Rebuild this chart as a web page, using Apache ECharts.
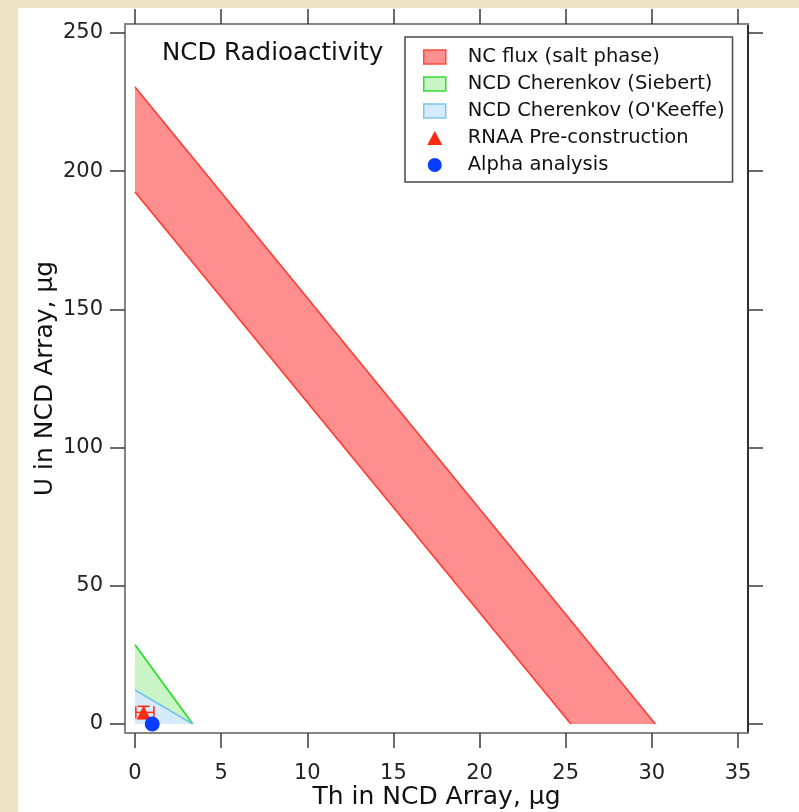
<!DOCTYPE html>
<html>
<head>
<meta charset="utf-8">
<script src="https://cdn.jsdelivr.net/npm/echarts@6/dist/echarts.min.js"></script>
<style>
  html, body { margin: 0; padding: 0; width: 799px; height: 812px; overflow: hidden; background: #efe4c4; }
  #panel { position: absolute; left: 18px; top: 8px; width: 781px; height: 804px; background: #ffffff; }
  #chart { position: absolute; left: 0; top: 0; width: 799px; height: 812px; }
</style>
</head>
<body>
<div id="panel"></div>
<div id="chart"></div>
<script>
// Tick positions on each axis
const thTicks = [0, 5, 10, 15, 20, 25, 30, 35];
const uTicks = [0, 50, 100, 150, 200, 250];
// Plot box extends a little past the outer ticks
const thRange = [-0.58, 35.58];
const uRange = [-3.26, 253.26];

// NC flux allowed band (salt phase): upper and lower edges, [Th, U] in micrograms
const ncFluxUpper = [[0, 230.5], [30.2, 0]];
const ncFluxLower = [[0, 192.5], [25.3, 0]];

// NCD Cherenkov limits
const siebertEdge = [[0, 28.7], [3.35, 0]];
const okeeffeEdge = [[0, 12.3], [3.35, 0]];

// Point measurements: [Th, U]
const rnaaPoint = [[0.5, 4.2]];
const rnaaThRange = [[0.05, 1.1]];
const rnaaURange = [[2.0, 6.4]];
const alphaPoint = [[1.0, 0.0]];

const FONT = 'DejaVu Sans';
const chart = echarts.init(document.getElementById('chart'), null, { renderer: 'canvas' });

const tickStyle = { color: '#3a3a3a', width: 1.5 };
const frameStyle = { color: '#858585', width: 2 };

function thAxis(pos, withLabels) {
  return {
    type: 'value', position: pos,
    min: thRange[0], max: thRange[1],
    axisLine: { show: true, onZero: false, lineStyle: frameStyle },
    axisTick: { show: true, inside: false, length: 15, customValues: thTicks, lineStyle: tickStyle },
    axisLabel: withLabels
      ? { show: true, customValues: thTicks, fontFamily: FONT, fontSize: 21, color: '#222', margin: 30 }
      : { show: false },
    splitLine: { show: false }
  };
}
function uAxis(pos, withLabels, lineStyle) {
  return {
    type: 'value', position: pos,
    min: uRange[0], max: uRange[1],
    axisLine: { show: true, onZero: false, lineStyle: lineStyle },
    axisTick: { show: true, inside: false, length: 15, customValues: uTicks, lineStyle: tickStyle },
    axisLabel: withLabels
      ? { show: true, customValues: uTicks, fontFamily: FONT, fontSize: 21, color: '#222', margin: 22 }
      : { show: false },
    splitLine: { show: false }
  };
}

const xBottom = Object.assign(thAxis('bottom', true), {
  name: 'Th in NCD Array, μg', nameLocation: 'middle', nameGap: 52, nameMoveOverlap: false,
  nameTextStyle: { fontFamily: FONT, fontSize: 25, color: '#111' }
});
const xTop = thAxis('top', false);
const yLeft = Object.assign(uAxis('left', true, frameStyle), {
  name: 'U in NCD Array, μg', nameLocation: 'middle', nameGap: 67, nameRotate: 90, nameMoveOverlap: false,
  nameTextStyle: { fontFamily: FONT, fontSize: 25, color: '#111' }
});
const yRight = uAxis('right', false, { color: '#2e2e2e', width: 2 });

chart.setOption({
  backgroundColor: 'transparent',
  animation: false,
  title: {
    text: 'NCD Radioactivity',
    left: 162, top: 41, padding: 0,
    textStyle: { fontFamily: FONT, fontSize: 24.5, fontWeight: 'normal', color: '#111' }
  },
  legend: {
    orient: 'vertical',
    left: 405, top: 37,
    padding: [10, 8, 7, 18],
    itemWidth: 22, itemHeight: 14, itemGap: 7,
    borderColor: '#4a4a4a', borderWidth: 1.5,
    selectedMode: false,
    textStyle: { fontFamily: FONT, fontSize: 19.5, color: '#111', lineHeight: 20, padding: [0, 0, 0, 17] },
    data: [
      { name: 'NC flux (salt phase)', icon: 'rect', itemStyle: { color: '#ff8f8f', borderColor: '#ff4a3c', borderWidth: 1.5 } },
      { name: 'NCD Cherenkov (Siebert)', icon: 'rect', itemStyle: { color: '#c9f5c6', borderColor: '#33dd33', borderWidth: 1.5 } },
      { name: "NCD Cherenkov (O'Keeffe)", icon: 'rect', itemStyle: { color: '#d6ebf9', borderColor: '#7cc7f0', borderWidth: 1.5 } },
      { name: 'RNAA Pre-construction', icon: 'path://M7,0L14,13L0,13Z', itemStyle: { color: '#ff2a10', borderWidth: 0 } },
      { name: 'Alpha analysis', icon: 'circle', itemStyle: { color: '#0a3cff', borderWidth: 0 } }
    ]
  },
  grid: { left: 125, top: 24, width: 623, height: 709, show: false, outerBoundsMode: 'none', containLabel: false },
  xAxis: [xBottom, xTop],
  yAxis: [yLeft, yRight],
  series: [
    {
      // NC flux band: polygon between the two parallel limits
      type: 'custom', name: 'NC flux (salt phase)',
      xAxisIndex: 0, yAxisIndex: 0, z: 1,
      itemStyle: { color: '#ff8f8f' },
      data: [[ncFluxUpper[0][0], ncFluxUpper[0][1]]],
      renderItem: function (params, api) {
        const up = ncFluxUpper.map(p => api.coord(p));
        const lo = ncFluxLower.map(p => api.coord(p));
        return {
          type: 'group',
          children: [
            { type: 'polygon', shape: { points: [up[0], up[1], lo[1], lo[0]] }, style: { fill: '#ff8f8f' } },
            { type: 'polyline', shape: { points: up }, style: { stroke: '#ff3a2e', lineWidth: 1.6, fill: 'none' } },
            { type: 'polyline', shape: { points: lo }, style: { stroke: '#ff3a2e', lineWidth: 1.6, fill: 'none' } }
          ]
        };
      }
    },
    {
      type: 'line', name: 'NCD Cherenkov (Siebert)',
      xAxisIndex: 0, yAxisIndex: 0, z: 2,
      data: siebertEdge, symbol: 'none',
      lineStyle: { color: '#2ede2e', width: 1.8 },
      itemStyle: { color: '#2ede2e' },
      areaStyle: { color: '#c9f5c6', opacity: 1, origin: 0 }
    },
    {
      type: 'line', name: "NCD Cherenkov (O'Keeffe)",
      xAxisIndex: 0, yAxisIndex: 0, z: 3,
      data: okeeffeEdge, symbol: 'none',
      lineStyle: { color: '#74c2ee', width: 1.6 },
      itemStyle: { color: '#74c2ee' },
      areaStyle: { color: '#d6ebf9', opacity: 1, origin: 0 }
    },
    {
      // RNAA error bars
      type: 'custom', name: 'RNAA error bars',
      xAxisIndex: 0, yAxisIndex: 0, z: 8, clip: false,
      data: rnaaPoint.map((p, i) => [p[0], p[1], rnaaThRange[i][0], rnaaThRange[i][1], rnaaURange[i][0], rnaaURange[i][1]]),
      renderItem: function (params, api) {
        const x = api.value(0), y = api.value(1);
        const pL = api.coord([api.value(2), y]), pR = api.coord([api.value(3), y]);
        const pB = api.coord([x, api.value(4)]), pT = api.coord([x, api.value(5)]);
        const capH = (pB[1] - pT[1]) / 2;
        const capW = 6;
        const st = { stroke: '#ff2a10', lineWidth: 1.5, fill: 'none' };
        const seg = (x1, y1, x2, y2) => ({ type: 'polyline', shape: { points: [[x1, y1], [x2, y2]] }, style: st });
        return {
          type: 'group',
          children: [
            seg(pL[0], pL[1], pR[0], pR[1]),
            seg(pL[0], pL[1] - capH, pL[0], pL[1] + capH),
            seg(pR[0], pR[1] - capH, pR[0], pR[1] + capH),
            seg(pB[0], pB[1], pT[0], pT[1]),
            seg(pB[0] - capW, pB[1], pB[0] + capW, pB[1]),
            seg(pT[0] - capW, pT[1], pT[0] + capW, pT[1])
          ]
        };
      }
    },
    {
      type: 'scatter', name: 'RNAA Pre-construction',
      xAxisIndex: 0, yAxisIndex: 0, z: 9, clip: false,
      data: rnaaPoint, symbol: 'triangle', symbolSize: 14,
      itemStyle: { color: '#ff2a10', opacity: 1 }
    },
    {
      type: 'scatter', name: 'Alpha analysis',
      xAxisIndex: 0, yAxisIndex: 0, z: 10, clip: false,
      data: alphaPoint, symbol: 'circle', symbolSize: 15,
      itemStyle: { color: '#0a3cff', opacity: 1 }
    }
  ]
});
</script>
</body>
</html>
